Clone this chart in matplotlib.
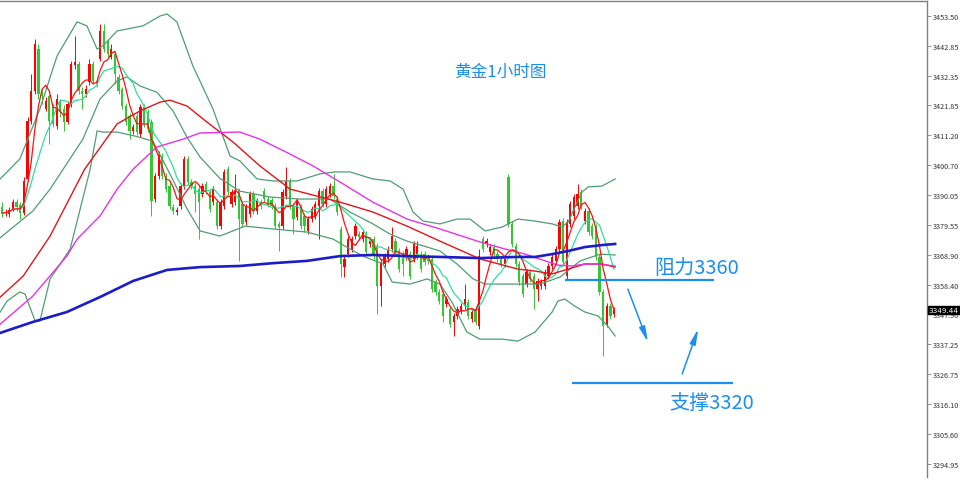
import matplotlib
matplotlib.use("Agg")
import matplotlib.pyplot as plt
import numpy as np
import pandas as pd

plt.rcParams['font.family'] = ['Noto Sans CJK SC', 'DejaVu Sans']

# ---------------- data (XAUUSD 1H) ----------------
opens = [3385.9, 3383.7, 3383.4, 3385.2, 3387.6, 3386.6, 3383.7, 3395.8, 3416.3, 3426.9,
         3441.8, 3425.9, 3420.6, 3425.2, 3421.3, 3414.5, 3423.0, 3420.6, 3415.9, 3422.3,
         3436.1, 3436.5, 3426.9, 3425.9, 3430.1, 3436.5, 3430.5, 3438.3, 3448.2, 3444.3,
         3439.0, 3440.0, 3431.9, 3427.6, 3421.6, 3418.1, 3412.8, 3418.1, 3411.7, 3421.3,
         3419.5, 3415.9, 3388.7, 3396.9, 3403.9, 3396.9, 3393.3, 3385.9, 3384.1, 3386.2,
         3393.3, 3402.9, 3394.7, 3393.3, 3392.2, 3390.5, 3394.0, 3391.2, 3387.6, 3387.6,
         3379.1, 3386.2, 3399.3, 3386.9, 3387.6, 3391.5, 3386.9, 3380.6, 3383.4, 3390.5,
         3384.5, 3387.6, 3391.5, 3388.7, 3388.3, 3386.2, 3379.9, 3379.1, 3389.8, 3395.1,
         3386.2, 3382.3, 3385.9, 3382.7, 3377.4, 3381.6, 3382.7, 3386.2, 3391.5, 3386.9,
         3390.5, 3393.3, 3388.7, 3378.1, 3364.6, 3369.2, 3371.0, 3375.6, 3376.3, 3374.5,
         3376.3, 3372.8, 3374.5, 3372.1, 3357.9, 3365.7, 3367.5, 3371.0, 3373.8, 3370.3,
         3369.2, 3368.2, 3369.2, 3367.5, 3368.5, 3369.2, 3369.2, 3368.2, 3367.5, 3359.3,
         3355.8, 3355.1, 3351.5, 3349.8, 3345.2, 3347.3, 3349.1, 3350.8, 3352.2, 3346.2,
         3349.8, 3343.7, 3374.5, 3372.8, 3369.9, 3371.7, 3369.2, 3367.5, 3365.7, 3396.5,
         3379.9, 3372.1, 3365.7, 3361.4, 3358.6, 3362.9, 3361.4, 3356.8, 3357.9, 3357.9,
         3361.4, 3365.0, 3366.8, 3371.0, 3380.9, 3361.4, 3379.9, 3382.7, 3386.2, 3391.2,
         3380.9, 3384.5, 3379.1, 3378.8, 3368.2, 3355.8, 3344.5, 3350.8, 3348.0]
highs = [3387.6, 3385.2, 3385.9, 3388.7, 3388.7, 3387.6, 3396.5, 3417.7, 3433.0, 3445.3,
         3443.6, 3427.6, 3424.8, 3425.9, 3422.3, 3425.9, 3424.1, 3422.0, 3423.4, 3437.5,
         3446.4, 3437.5, 3428.3, 3429.1, 3438.3, 3437.5, 3431.9, 3450.7, 3450.7, 3445.3,
         3443.6, 3441.1, 3433.0, 3428.3, 3422.7, 3419.2, 3415.3, 3419.2, 3422.3, 3422.3,
         3420.6, 3417.0, 3397.9, 3405.7, 3405.0, 3397.9, 3394.4, 3386.9, 3385.9, 3394.4,
         3403.9, 3403.9, 3395.8, 3394.4, 3393.3, 3394.4, 3395.1, 3392.2, 3393.3, 3388.7,
         3388.7, 3399.3, 3400.4, 3392.2, 3397.6, 3392.6, 3388.0, 3386.9, 3391.5, 3391.5,
         3389.1, 3388.7, 3392.6, 3389.8, 3389.4, 3387.3, 3380.9, 3392.2, 3400.0, 3396.1,
         3387.3, 3389.1, 3386.9, 3383.7, 3382.7, 3386.2, 3388.0, 3392.6, 3392.6, 3393.3,
         3394.4, 3397.6, 3389.8, 3379.1, 3368.5, 3375.6, 3375.6, 3380.2, 3377.4, 3378.1,
         3377.4, 3374.5, 3375.6, 3373.1, 3367.5, 3369.6, 3372.1, 3378.8, 3374.9, 3371.4,
         3370.3, 3372.1, 3370.3, 3373.8, 3373.8, 3370.3, 3370.3, 3369.2, 3368.5, 3360.4,
         3356.8, 3356.1, 3354.4, 3350.8, 3348.3, 3350.8, 3351.9, 3358.6, 3353.3, 3349.8,
         3350.8, 3371.0, 3375.6, 3374.9, 3372.8, 3372.8, 3370.3, 3368.5, 3368.5, 3397.6,
         3381.0, 3373.1, 3366.8, 3362.5, 3363.9, 3363.9, 3362.5, 3360.8, 3360.4, 3363.9,
         3366.1, 3369.2, 3372.1, 3381.6, 3381.9, 3381.6, 3388.0, 3390.5, 3394.0, 3392.2,
         3385.6, 3385.6, 3380.2, 3379.9, 3369.2, 3356.8, 3351.9, 3351.9, 3350.5]
lows = [3382.3, 3382.7, 3382.3, 3384.5, 3384.5, 3381.6, 3383.0, 3395.1, 3415.3, 3425.9,
        3424.1, 3422.3, 3419.9, 3408.2, 3414.2, 3413.5, 3417.7, 3412.8, 3415.3, 3421.3,
        3434.7, 3425.9, 3420.6, 3424.8, 3429.1, 3429.4, 3428.3, 3437.5, 3440.7, 3439.0,
        3438.3, 3429.4, 3425.9, 3420.6, 3414.9, 3409.9, 3411.7, 3411.4, 3410.6, 3414.2,
        3412.4, 3382.7, 3387.6, 3395.8, 3395.8, 3391.2, 3385.2, 3383.4, 3383.0, 3385.2,
        3392.2, 3393.7, 3392.2, 3384.1, 3374.5, 3389.4, 3390.5, 3384.1, 3386.6, 3378.1,
        3378.1, 3385.2, 3390.1, 3385.9, 3386.6, 3366.8, 3378.8, 3379.5, 3382.3, 3383.4,
        3383.4, 3385.2, 3387.6, 3385.9, 3385.2, 3378.1, 3370.3, 3378.1, 3388.7, 3385.2,
        3376.3, 3381.3, 3378.1, 3377.0, 3376.3, 3380.6, 3381.6, 3374.5, 3385.9, 3385.9,
        3389.4, 3388.7, 3383.0, 3361.1, 3361.1, 3368.2, 3369.9, 3374.5, 3374.2, 3373.5,
        3368.9, 3371.7, 3367.5, 3348.0, 3350.8, 3364.6, 3366.4, 3369.9, 3368.9, 3362.9,
        3361.4, 3367.1, 3360.4, 3366.4, 3367.5, 3362.9, 3365.3, 3365.7, 3355.8, 3354.7,
        3351.5, 3345.2, 3350.5, 3343.4, 3340.2, 3346.2, 3348.0, 3349.8, 3346.2, 3345.2,
        3344.1, 3342.7, 3369.9, 3371.7, 3368.9, 3368.2, 3366.4, 3364.6, 3364.6, 3378.8,
        3371.7, 3364.6, 3358.2, 3354.0, 3357.5, 3359.3, 3349.8, 3352.6, 3356.8, 3356.8,
        3360.4, 3363.9, 3365.7, 3369.9, 3365.3, 3360.4, 3378.8, 3381.6, 3385.2, 3385.2,
        3379.9, 3375.9, 3374.5, 3367.1, 3354.7, 3333.1, 3343.4, 3346.2, 3346.9]
closes = [3383.7, 3384.1, 3384.8, 3387.6, 3385.9, 3383.7, 3395.1, 3416.3, 3426.9, 3443.6,
          3425.9, 3425.2, 3423.4, 3416.3, 3415.3, 3424.1, 3419.5, 3415.9, 3422.3, 3436.5,
          3437.2, 3426.9, 3425.9, 3427.6, 3436.5, 3430.5, 3429.4, 3448.2, 3441.8, 3440.0,
          3441.8, 3433.0, 3426.9, 3421.6, 3415.9, 3412.8, 3414.2, 3412.4, 3421.3, 3415.3,
          3413.5, 3388.0, 3396.9, 3404.6, 3396.9, 3392.2, 3386.2, 3384.5, 3384.8, 3393.3,
          3402.9, 3394.7, 3393.3, 3390.5, 3387.6, 3393.3, 3391.5, 3385.2, 3392.2, 3379.1,
          3387.6, 3398.3, 3391.2, 3391.2, 3391.2, 3381.6, 3379.9, 3385.9, 3390.5, 3384.5,
          3388.0, 3386.2, 3388.7, 3386.9, 3386.2, 3379.1, 3378.8, 3391.2, 3395.1, 3386.2,
          3381.6, 3388.0, 3379.1, 3379.1, 3381.6, 3385.2, 3386.9, 3391.5, 3386.9, 3392.2,
          3393.3, 3389.8, 3384.1, 3365.7, 3367.5, 3374.5, 3374.5, 3379.1, 3375.3, 3377.0,
          3369.9, 3373.8, 3368.5, 3357.9, 3366.4, 3368.5, 3371.0, 3375.6, 3369.9, 3363.9,
          3365.7, 3371.0, 3361.4, 3372.8, 3372.1, 3363.9, 3366.4, 3366.8, 3356.8, 3355.8,
          3352.6, 3347.3, 3353.3, 3344.5, 3347.3, 3349.8, 3350.8, 3353.3, 3347.3, 3348.7,
          3345.2, 3368.5, 3371.0, 3373.8, 3371.7, 3369.2, 3367.5, 3365.7, 3367.5, 3379.9,
          3372.8, 3365.7, 3359.3, 3355.1, 3362.9, 3360.4, 3356.8, 3359.7, 3359.3, 3362.9,
          3365.0, 3368.2, 3371.0, 3380.6, 3366.4, 3380.6, 3386.9, 3389.4, 3390.5, 3386.2,
          3384.5, 3377.0, 3375.6, 3368.2, 3355.8, 3343.7, 3350.8, 3347.3, 3349.4]

# indicator lines (bar index, price)
ma_blue_x = [-0.5, 8.5, 17.8, 26.9, 36.0, 45.3, 54.4, 65.3, 74.4, 83.7, 92.8, 101.8,
             111.2, 120.2, 131.2, 141.6, 146.3, 151.0, 155.4, 160.0, 164.7, 168.3]
ma_blue_y = [3341.3, 3345.2, 3348.7, 3354.0, 3359.7, 3363.6, 3364.6, 3365.0, 3366.0,
             3366.8, 3368.5, 3368.9, 3368.5, 3368.2, 3367.8, 3368.2, 3368.2, 3369.2,
             3370.3, 3371.7, 3372.4, 3372.8]
ma_mag_x = [-0.5, 8.5, 17.8, 20.6, 26.9, 31.6, 36.0, 42.5, 49.7, 54.4, 65.3, 70.8, 79.1,
            85.4, 92.8, 101.8, 111.2, 120.2, 131.2, 138.1, 143.6, 149.1, 152.6, 156.5,
            160.0, 163.6, 168.3]
ma_mag_y = [3344.4, 3354.4, 3368.5, 3374.5, 3382.7, 3392.2, 3399.3, 3407.1, 3409.9,
            3412.1, 3412.4, 3409.9, 3404.6, 3400.4, 3394.7, 3387.6, 3381.6, 3378.1,
            3373.5, 3371.0, 3369.2, 3366.8, 3365.3, 3365.0, 3365.7, 3365.7, 3365.0]
ma_red_x = [-0.5, 5.8, 13.2, 22.7, 31.6, 37.9, 43.4, 46.1, 50.8, 56.3, 63.4, 70.8, 79.1,
            92.8, 101.8, 111.2, 120.2, 131.2, 141.6, 146.3, 151.0, 155.4, 160.0, 164.7,
            168.3]
ma_red_y = [3354.0, 3361.4, 3375.6, 3399.3, 3415.3, 3419.9, 3423.0, 3423.7, 3421.6,
            3415.9, 3408.9, 3400.4, 3392.2, 3387.6, 3384.1, 3379.1, 3373.8, 3367.5,
            3363.9, 3363.2, 3362.2, 3363.9, 3365.7, 3365.7, 3364.6]
bb_up_x = [-0.5, 4.9, 10.4, 15.1, 20.6, 23.3, 26.1, 27.7, 31.6, 38.7, 43.4, 45.3, 48.0,
           52.4, 57.9, 62.6, 65.3, 70.0, 74.4, 81.0, 87.3, 91.4, 95.5, 101.8, 106.5,
           110.1, 112.8, 115.6, 120.2, 124.9, 128.5, 132.6, 137.3, 141.6, 146.3, 151.0,
           153.7, 155.4, 159.2, 160.9, 164.7, 168.3]
bb_up_y = [3395.8, 3402.9, 3420.6, 3439.3, 3451.4, 3450.0, 3441.8, 3442.9, 3448.2,
           3450.0, 3453.5, 3454.2, 3451.4, 3435.8, 3420.6, 3403.9, 3402.2, 3395.8,
           3395.1, 3395.1, 3397.6, 3398.3, 3398.3, 3395.8, 3395.1, 3392.2, 3384.1,
           3380.9, 3379.9, 3381.6, 3381.6, 3377.4, 3378.8, 3381.6, 3380.9, 3379.9,
           3378.8, 3380.6, 3391.2, 3393.0, 3393.3, 3395.8]
bb_mid_x = [-0.5, 8.5, 13.2, 22.2, 26.9, 31.6, 34.3, 37.9, 42.5, 46.9, 50.8, 54.4, 59.8,
            65.3, 73.6, 81.8, 90.0, 95.5, 101.8, 106.5, 111.2, 116.7, 120.2, 124.9,
            129.3, 132.6, 136.7, 142.2, 147.7, 153.2, 158.7, 164.2, 168.3]
bb_mid_y = [3375.0, 3384.5, 3392.2, 3409.9, 3424.1, 3430.5, 3431.9, 3428.7, 3426.5,
            3420.0, 3410.5, 3403.5, 3396.0, 3391.5, 3389.4, 3388.7, 3388.7, 3384.1,
            3379.9, 3376.3, 3373.8, 3371.7, 3370.3, 3365.7, 3360.4, 3358.6, 3358.6,
            3358.6, 3358.6, 3361.1, 3366.8, 3369.2, 3368.9]
bb_lo_x = [-0.5, 1.4, 4.9, 6.3, 9.1, 10.4, 13.2, 18.7, 24.2, 26.1, 27.7, 31.6, 36.5,
           41.4, 46.1, 50.8, 54.4, 59.8, 66.7, 74.4, 83.7, 90.9, 95.5, 99.6, 104.6,
           107.1, 112.0, 116.7, 120.2, 123.5, 127.6, 131.2, 137.3, 141.6, 146.3, 151.0,
           152.6, 154.5, 157.2, 160.0, 163.6, 166.3, 168.3]
bb_lo_y = [3348.7, 3352.6, 3355.8, 3355.1, 3345.5, 3345.5, 3360.4, 3371.0, 3399.3,
           3412.8, 3412.4, 3412.4, 3411.0, 3409.2, 3397.6, 3385.2, 3377.4, 3375.6,
           3379.1, 3378.1, 3377.0, 3374.5, 3371.0, 3368.2, 3365.7, 3359.3, 3358.6,
           3360.4, 3358.6, 3352.2, 3341.6, 3339.1, 3339.1, 3338.4, 3341.6, 3348.7,
           3352.6, 3353.3, 3350.8, 3348.7, 3347.3, 3343.7, 3340.2]

ytick_vals = [3453.50, 3442.85, 3432.35, 3421.85, 3411.20, 3400.70, 3390.05, 3379.55,
              3368.90, 3358.40, 3347.90, 3337.25, 3326.75, 3316.10, 3305.60, 3294.95]
last_price = 3349.44
resistance = 3360.0
support = 3323.5
title_text = "黄金1小时图"
res_text = "阻力3360"
sup_text = "支撑3320"

# ---------------- figure ----------------
W, H = 960, 481
fig = plt.figure(figsize=(W / 100, H / 100), dpi=100)
ax = fig.add_axes([0, 3 / H, 927 / W, 476 / H])
ax.set_xlim(-0.55, 253.9)
ax.set_ylim(3290.3, 3458.8)

n = len(closes)
x = np.arange(n)
o = np.array(opens); c = np.array(closes); hi = np.array(highs); lo = np.array(lows)
up = c >= o
RED = "#ff0000"
GREEN = "#32c832"
cols = np.where(up, RED, GREEN)

ax.vlines(x, lo, hi, colors=cols, linewidth=0.7, zorder=2)
body = np.where(np.abs(c - o) < 0.4, 0.4, c - o)
ax.bar(x, body, bottom=o, width=0.62, color=cols, linewidth=0, zorder=3)

closes_s = pd.Series(closes)
ma5 = closes_s.rolling(5, min_periods=1).mean()
ma10 = closes_s.rolling(10, min_periods=1).mean()

BB = "#4f9d74"
ax.plot(bb_up_x, bb_up_y, color=BB, lw=0.9, zorder=4)
ax.plot(bb_mid_x, bb_mid_y, color=BB, lw=0.9, zorder=4)
ax.plot(bb_lo_x, bb_lo_y, color=BB, lw=0.9, zorder=4)
ax.plot(x, ma10, color="#2fe09a", lw=0.9, zorder=5)
ax.plot(x, ma5, color="#ff1010", lw=0.9, zorder=6)
ax.plot(ma_red_x, ma_red_y, color="#e3141c", lw=1.0, zorder=5)
ax.plot(ma_mag_x, ma_mag_y, color="#e832e8", lw=1.0, zorder=5)
ax.plot(ma_blue_x, ma_blue_y, color="#1c1cc8", lw=1.9, zorder=6)

# support / resistance
BLUE = "#1a8fef"
ax.hlines(resistance, 154.5, 195.4, color=BLUE, lw=1.6, zorder=7)
ax.hlines(support, 156.5, 200.7, color=BLUE, lw=1.6, zorder=7)
ax.text(179.0, 3364.6, res_text, color=BLUE, fontsize=14.5, va="center", ha="left")
ax.text(183.3, 3316.8, sup_text, color=BLUE, fontsize=14.5, va="center", ha="left")
ax.text(136.7, 3434.0, title_text, color=BLUE, fontsize=12, va="center", ha="center")

ap = dict(arrowstyle="-|>,head_length=0.9,head_width=0.18", color=BLUE, lw=1.1,
          shrinkA=0, shrinkB=0)
ax.annotate("", xy=(177.3, 3338.1), xytext=(171.8, 3356.8), arrowprops=ap)
ax.annotate("", xy=(191.1, 3342.7), xytext=(186.7, 3326.8), arrowprops=ap)

# axes styling (MT4-like)
for s in ["left", "bottom"]:
    ax.spines[s].set_visible(False)
for s in ["top", "right"]:
    ax.spines[s].set_color("#808080")
    ax.spines[s].set_linewidth(1.0)
ax.set_xticks([])
ax.yaxis.tick_right()
ax.set_yticks(ytick_vals)
ax.set_yticklabels([f"{v:.2f}" for v in ytick_vals])
ax.tick_params(axis="y", direction="out", length=3, width=0.6, color="#808080",
               labelsize=5.2, labelcolor="#333333", pad=1.5)

ax.text(1.002, (last_price - 3290.3) / (3458.8 - 3290.3), f"{last_price:.2f}",
        transform=ax.transAxes, fontsize=5.2, color="white", va="center", ha="left",
        family="DejaVu Sans",
        bbox=dict(boxstyle="square,pad=0.15", fc="black", ec="black"), zorder=10)

fig.savefig("out.png", dpi=100)
